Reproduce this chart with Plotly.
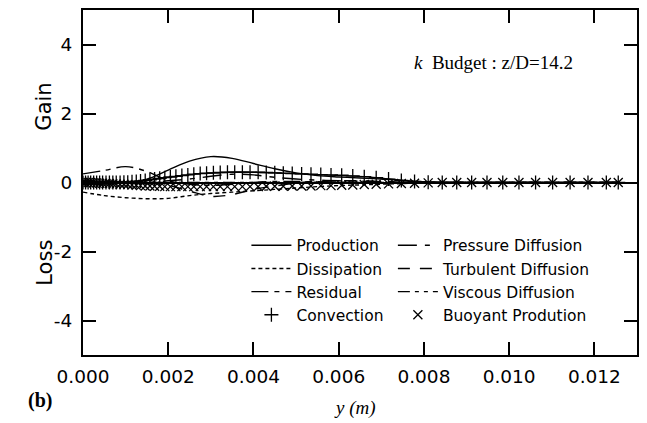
import plotly.graph_objects as go

# Radial positions (m) for the smooth budget terms
y_line = [0.0, 0.0005, 0.001, 0.0015, 0.002, 0.0025, 0.003, 0.0035, 0.004, 0.0045,
          0.005, 0.0055, 0.006, 0.0065, 0.007, 0.0075, 0.008, 0.0085, 0.009, 0.010,
          0.011, 0.012, 0.0126]

production = [0.0, 0.0, 0.01, 0.1, 0.36, 0.62, 0.75, 0.7, 0.55, 0.4,
              0.28, 0.2, 0.16, 0.13, 0.1, 0.06, 0.02, 0.0, 0.0, 0.0,
              0.0, 0.0, 0.0]
dissipation = [-0.28, -0.38, -0.44, -0.47, -0.46, -0.38, -0.32, -0.28, -0.24, -0.2,
               -0.16, -0.12, -0.09, -0.07, -0.05, -0.03, -0.01, 0.0, 0.0, 0.0,
               0.0, 0.0, 0.0]
residual = [0.25, 0.35, 0.46, 0.32, 0.05, -0.05, -0.08, -0.05, 0.0, 0.03,
            0.03, 0.02, 0.01, 0.0, 0.0, 0.0, 0.0, 0.0, 0.0, 0.0,
            0.0, 0.0, 0.0]
pressure_diff = [-0.05, -0.05, -0.03, 0.0, 0.05, 0.1, 0.18, 0.24, 0.22, 0.15,
                 0.1, 0.07, 0.05, 0.04, 0.02, 0.01, 0.0, 0.0, 0.0, 0.0,
                 0.0, 0.0, 0.0]
turbulent_diff = [0.05, 0.05, 0.03, 0.0, -0.08, -0.25, -0.4, -0.35, -0.2, -0.1,
                  -0.02, 0.03, 0.05, 0.05, 0.03, 0.01, 0.0, 0.0, 0.0, 0.0,
                  0.0, 0.0, 0.0]
viscous_diff = [0.05, 0.03, 0.01, 0.0, 0.0, 0.0, 0.0, 0.0, 0.0, 0.0,
                0.0, 0.0, 0.0, 0.0, 0.0, 0.0, 0.0, 0.0, 0.0, 0.0,
                0.0, 0.0, 0.0]

# Measurement grid (m) for the convection and buoyant terms
y_grid = [0.0, 0.00006, 0.00012, 0.00018, 0.00025, 0.00032, 0.00039, 0.00046, 0.00054, 0.00062,
          0.0007, 0.00078, 0.00087, 0.00096, 0.00105, 0.00115, 0.00125, 0.00135, 0.00146, 0.00157,
          0.00168, 0.0018, 0.00192, 0.00205, 0.00218, 0.00232, 0.00246, 0.0026, 0.00275, 0.0029,
          0.00306, 0.00322, 0.00339, 0.00356, 0.00374, 0.00392, 0.00411, 0.0043, 0.0045, 0.0047,
          0.00491, 0.00513, 0.00535, 0.00558, 0.00582, 0.00607, 0.00633, 0.0066, 0.00688, 0.00717,
          0.00747, 0.00778, 0.0081, 0.00843, 0.00877, 0.00912, 0.00948, 0.00985, 0.01023, 0.01062,
          0.01102, 0.01143, 0.01185, 0.01228, 0.01256]

convection = [0.0, 0.0, 0.0, 0.0, 0.0, 0.0, 0.0, 0.0, 0.0, 0.0,
              0.0, 0.0, 0.0, 0.01, 0.01, 0.02, 0.03, 0.04, 0.06, 0.08,
              0.1, 0.12, 0.14, 0.16, 0.18, 0.2, 0.22, 0.24, 0.26, 0.27,
              0.28, 0.29, 0.3, 0.3, 0.3, 0.3, 0.3, 0.29, 0.28, 0.27,
              0.26, 0.25, 0.24, 0.23, 0.22, 0.21, 0.19, 0.17, 0.14, 0.1,
              0.06, 0.03, 0.01, 0.0, 0.0, 0.0, 0.0, 0.0, 0.0, 0.0,
              0.0, 0.0, 0.0, 0.0, 0.0]
buoyant = [0.0, 0.0, 0.0, 0.0, -0.01, -0.01, -0.02, -0.02, -0.03, -0.03,
           -0.04, -0.04, -0.05, -0.05, -0.06, -0.07, -0.08, -0.09, -0.1, -0.1,
           -0.11, -0.11, -0.12, -0.12, -0.12, -0.12, -0.12, -0.12, -0.12, -0.12,
           -0.12, -0.12, -0.12, -0.12, -0.12, -0.12, -0.12, -0.11, -0.11, -0.11,
           -0.1, -0.1, -0.1, -0.09, -0.09, -0.08, -0.07, -0.06, -0.05, -0.04,
           -0.03, -0.02, -0.01, 0.0, 0.0, 0.0, 0.0, 0.0, 0.0, 0.0,
           0.0, 0.0, 0.0, 0.0, 0.0]

x_ticks = [0.0, 0.002, 0.004, 0.006, 0.008, 0.010, 0.012]
x_tick_text = ["0.000", "0.002", "0.004", "0.006", "0.008", "0.010", "0.012"]
y_ticks = [-4, -2, 0, 2, 4]
y_tick_text = ["-4", "-2", "0", "2", "4"]

SANS = "DejaVu Sans, Liberation Sans, sans-serif"
SERIF = "Liberation Serif, Times New Roman, serif"

# plot-area geometry in pixels, used to place the free text
W, H = 647, 423
L, R, T, B = 83, 639, 8, 355


def px_x(x):
    return (x - L) / (R - L)


def px_y(y):
    return (B - y) / (B - T)


fig = go.Figure()


def line_trace(y, name, dash, legend):
    return go.Scatter(x=y_line, y=y, mode="lines", name=name, legend=legend,
                      line=dict(color="black", width=1.4, dash=dash, shape="spline"))


# column 1 of the key
fig.add_trace(line_trace(production, "Production", "solid", "legend"))
fig.add_trace(line_trace(dissipation, "Dissipation", "4px,3px", "legend"))
fig.add_trace(line_trace(residual, "Residual", "17px,6px,5px,6px", "legend"))
fig.add_trace(go.Scatter(x=y_grid, y=convection, mode="lines", showlegend=False,
                         line=dict(color="black", width=1.1)))
fig.add_trace(go.Scatter(x=y_grid, y=convection, mode="markers", name="Convection",
                         legend="legend",
                         marker=dict(symbol="cross-thin", size=10, color="black",
                                     line=dict(color="black", width=1.3))))
# column 2 of the key
fig.add_trace(line_trace(pressure_diff, "Pressure Diffusion", "19px,8px,5px,8px", "legend2"))
fig.add_trace(line_trace(turbulent_diff, "Turbulent Diffusion", "12px,10px", "legend2"))
fig.add_trace(line_trace(viscous_diff, "Viscous Diffusion", "12px,5px,4px,5px,4px,5px", "legend2"))
fig.add_trace(go.Scatter(x=y_grid, y=buoyant, mode="markers", name="Buoyant Prodution",
                         legend="legend2",
                         marker=dict(symbol="x-thin", size=9, color="black",
                                     line=dict(color="black", width=1.3))))

legend_common = dict(font=dict(family=SANS, size=15.5, color="black"),
                     bgcolor="rgba(0,0,0,0)", borderwidth=0,
                     xanchor="left", yanchor="top", tracegroupgap=0,
                     itemwidth=40, traceorder="normal")

fig.update_layout(
    width=W, height=H,
    margin=dict(l=L, r=W - R, t=T, b=H - B),
    paper_bgcolor="white", plot_bgcolor="white",
    font=dict(family=SANS, color="black"),
    legend=dict(x=px_x(247), y=px_y(228), **legend_common),
    legend2=dict(x=px_x(394), y=px_y(228), **legend_common),
    xaxis=dict(range=[0, 0.013], tickmode="array", tickvals=x_ticks, ticktext=x_tick_text,
               ticks="inside", ticklen=13, tickwidth=1.5, tickcolor="black",
               showline=True, linecolor="black", linewidth=2, mirror="ticks",
               showgrid=False, zeroline=False,
               tickfont=dict(family=SANS, size=18.5, color="black"), ticklabelstandoff=4),
    yaxis=dict(range=[-5, 5], tickmode="array", tickvals=y_ticks, ticktext=y_tick_text,
               ticks="inside", ticklen=13, tickwidth=1.5, tickcolor="black",
               showline=True, linecolor="black", linewidth=2, mirror="ticks",
               showgrid=False, zeroline=True, zerolinecolor="black", zerolinewidth=1.6,
               tickfont=dict(family=SANS, size=18.5, color="black"), ticklabelstandoff=5),
    showlegend=True,
)

fig.add_annotation(text="<i>k</i>  Budget : z/D=14.2", x=px_x(413), y=px_y(61),
                   xanchor="left", font=dict(family=SERIF, size=19, color="black"))
fig.add_annotation(text="<b>(b)</b>", x=px_x(26), y=px_y(401),
                   font=dict(family=SERIF, size=20, color="black"))
fig.add_annotation(text="<i>y (m)</i>", x=px_x(356), y=px_y(408),
                   font=dict(family=SERIF, size=19, color="black"))
fig.add_annotation(text="Gain", x=px_x(30), y=px_y(105), textangle=-90,
                   font=dict(family=SANS, size=21, color="black"))
fig.add_annotation(text="Loss", x=px_x(30), y=px_y(262), textangle=-90,
                   font=dict(family=SANS, size=21, color="black"))
fig.update_annotations(xref="paper", yref="paper", showarrow=False, yanchor="middle")

fig.write_html("out.html")
